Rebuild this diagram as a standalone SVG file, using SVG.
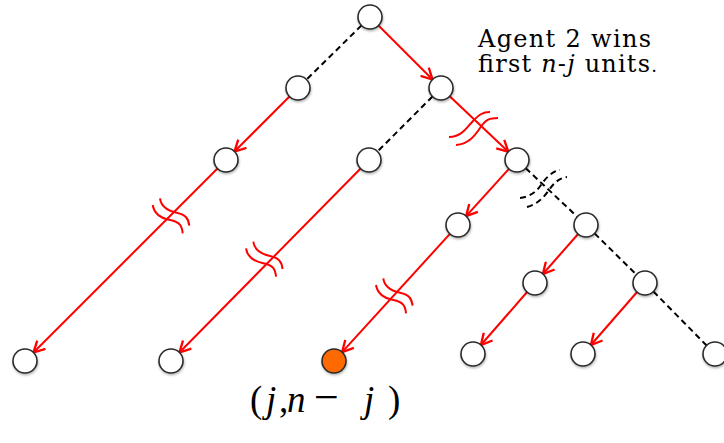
<svg xmlns="http://www.w3.org/2000/svg" width="724" height="443" viewBox="0 0 724 443">
<style>
.node{fill:#fff;stroke:#2a2a2a;stroke-width:1.6;filter:url(#sh)}
.win{fill:#ff6a00}
.red{stroke:#ff0000;stroke-width:2;fill:none;marker-end:url(#arr)}
.dash{stroke:#000;stroke-width:2;fill:none;stroke-dasharray:6,4}
.brk{stroke:#ff0000;stroke-width:2;fill:none}
.bdash{stroke:#000;stroke-width:2;fill:none;stroke-dasharray:6,4}
.lbl{font-family:"DejaVu Serif","Liberation Serif",serif;font-size:24px;fill:#000}
.math{font-family:"Liberation Serif","Times New Roman",serif;font-size:37px;fill:#000}
</style>
<defs>
<filter id="sh" x="-30%" y="-30%" width="160%" height="160%">
<feDropShadow dx="0.5" dy="1.5" stdDeviation="1" flood-color="#000" flood-opacity="0.3"/>
</filter>
<marker id="arr" markerUnits="userSpaceOnUse" markerWidth="14" markerHeight="14" viewBox="0 0 12 12" refX="10.5" refY="6" orient="auto">
<path d="M1,1 L10.5,6 L1,11" fill="none" stroke="#ff0000" stroke-width="2"/>
</marker>
<g id="brkL">
<path class="brk" d="M0,0 C1.3,8 7.3,13 17.3,15 S29.3,21 30,28.3"/>
<path class="brk" d="M7.3,-6.7 C8.3,1.3 14.3,5.5 24,7.7 S35.7,14 36.6,20.7"/>
</g>
</defs>

<g id="connectors">
<line class="red" x1="378.5" y1="25.5" x2="432.5" y2="79.5"/>
<line class="dash" x1="361.5" y1="25.4" x2="306.5" y2="79.6"/>
<line class="red" x1="289.5" y1="96.5" x2="234.5" y2="151.5"/>
<line class="red" x1="217.5" y1="168.5" x2="33.5" y2="352.5"/>
<line class="dash" x1="432.5" y1="96.5" x2="377.5" y2="151.5"/>
<line class="red" x1="360.6" y1="168.5" x2="179.4" y2="352.5"/>
<line class="red" x1="449.7" y1="96.3" x2="508.3" y2="151.7"/>
<line class="red" x1="508.9" y1="168.9" x2="466.1" y2="216.1"/>
<line class="red" x1="449.9" y1="233.9" x2="342.1" y2="352.1"/>
<line class="dash" x1="525.7" y1="168.2" x2="577.3" y2="216.8"/>
<line class="red" x1="578.1" y1="234" x2="542.9" y2="274"/>
<line class="red" x1="527.1" y1="292" x2="480.9" y2="345"/>
<line class="dash" x1="594.6" y1="233.4" x2="636.4" y2="274.6"/>
<line class="red" x1="637.1" y1="292" x2="590.9" y2="345"/>
<line class="dash" x1="653.4" y1="291.5" x2="706.6" y2="345.5"/>
</g>

<g id="breaks">
<use href="#brkL" transform="translate(152.7,205)"/>
<use href="#brkL" transform="translate(246,248.3)"/>
<use href="#brkL" transform="translate(376,285)"/>
<path class="brk" d="M449,137 C462,137 467,127 473,121 S482,112 490,112"/>
<path class="brk" d="M456,145 C468,144 474,137 480,128 S490,118 498,118"/>
<path class="bdash" d="M520,198 C530,197 537,191 541,185 S552,171 560,170"/>
<path class="bdash" d="M527,207 C538,204 544,197 549,190 S559,178 567,177"/>
</g>

<g id="n0"><circle class="node" cx="370" cy="17" r="12"/></g>
<g id="n1"><circle class="node" cx="298" cy="88" r="12"/></g>
<g id="n2"><circle class="node" cx="441" cy="88" r="12"/></g>
<g id="n3"><circle class="node" cx="226" cy="160" r="12"/></g>
<g id="n4"><circle class="node" cx="369" cy="160" r="12"/></g>
<g id="n5"><circle class="node" cx="517" cy="160" r="12"/></g>
<g id="n6"><circle class="node" cx="458" cy="225" r="12"/></g>
<g id="n7"><circle class="node" cx="586" cy="225" r="12"/></g>
<g id="n8"><circle class="node" cx="535" cy="283" r="12"/></g>
<g id="n9"><circle class="node" cx="645" cy="283" r="12"/></g>
<g id="b0"><circle class="node" cx="25" cy="361" r="12"/></g>
<g id="b1"><circle class="node" cx="171" cy="361" r="12"/></g>
<g id="b2"><circle class="node win" cx="334" cy="361" r="12"/></g>
<g id="b3"><circle class="node" cx="473" cy="354" r="12"/></g>
<g id="b4"><circle class="node" cx="583" cy="354" r="12"/></g>
<g id="b5"><circle class="node" cx="715" cy="354" r="12"/></g>

<g id="note">
<text class="lbl" x="478" y="47" textLength="173" lengthAdjust="spacing">Agent 2 wins</text>
<text class="lbl" x="478" y="72" textLength="179" lengthAdjust="spacing">first <tspan font-style="italic">n</tspan>-<tspan font-style="italic">j</tspan> units<tspan font-size="18">.</tspan></text>
</g>
<g id="result">
<text class="math" y="412"><tspan x="250">(</tspan><tspan x="266" font-style="italic">j</tspan><tspan x="279">,</tspan><tspan x="287" font-style="italic">n</tspan><tspan x="314" font-size="44">−</tspan><tspan x="364" font-style="italic">j</tspan><tspan x="388">)</tspan></text>
</g>
</svg>
